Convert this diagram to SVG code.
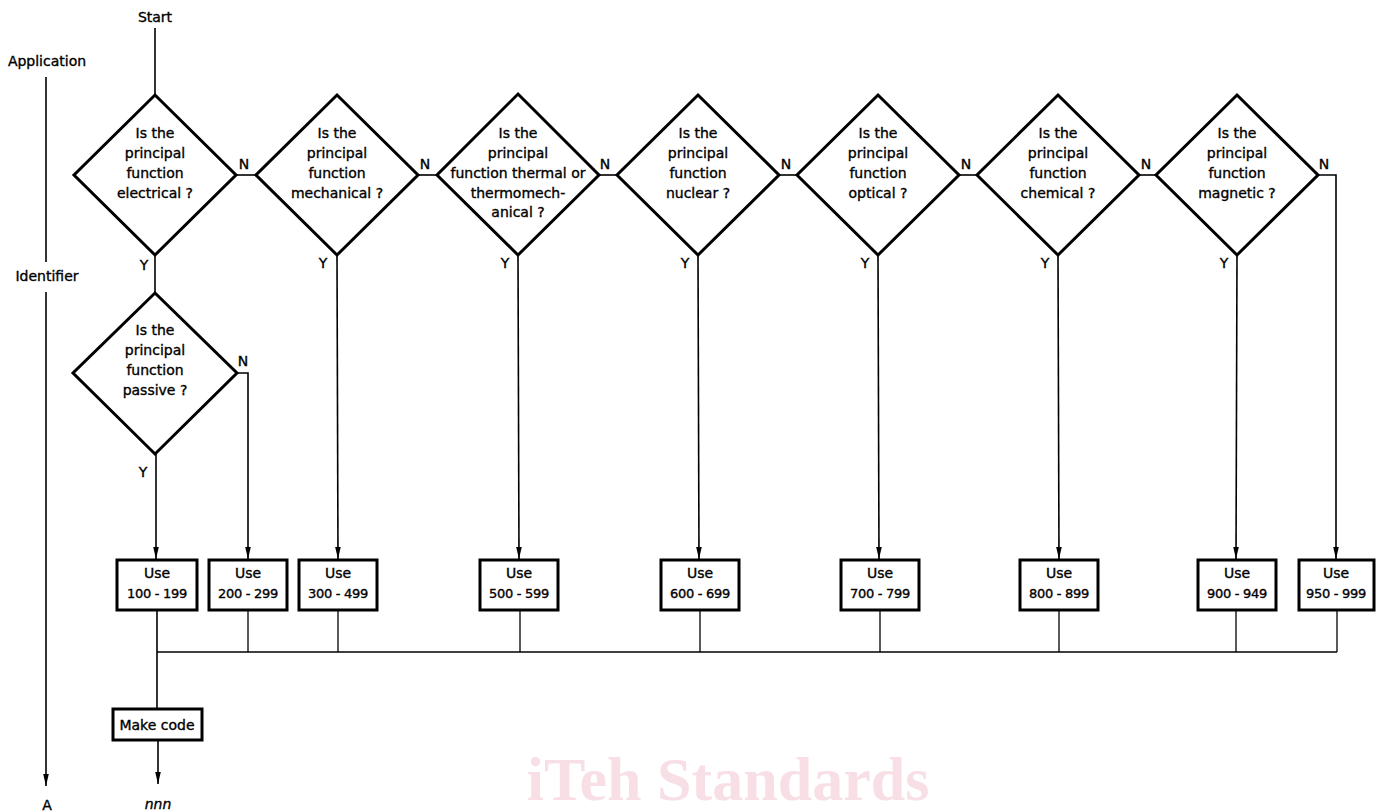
<svg xmlns="http://www.w3.org/2000/svg" width="1380" height="811" viewBox="0 0 1380 811">
<style>
  .t{font-family:"DejaVu Sans",sans-serif;font-size:14px;fill:#000;stroke:#000;stroke-width:0.35;text-anchor:middle}
  .b{font-family:"DejaVu Sans",sans-serif;font-size:13px;fill:#000;stroke:#000;stroke-width:0.35;text-anchor:middle;letter-spacing:-0.3px}
  .d{fill:#fff;stroke:#000;stroke-width:3;stroke-linejoin:miter}
  .r{fill:#fff;stroke:#000;stroke-width:3}
  .c{fill:none;stroke:#000;stroke-width:1.6}
  .c2{fill:none;stroke:#000;stroke-width:1.3}
  .wm{font-family:"Liberation Serif",serif;font-weight:bold;font-size:62px;fill:#f8dfe6;text-anchor:middle}
</style>
<defs>
  <marker id="arr" markerWidth="12" markerHeight="8" refX="12" refY="4" orient="auto" markerUnits="userSpaceOnUse">
    <path d="M0,1.2 L12,4 L0,6.8 z" fill="#000"/>
  </marker>
</defs>

<text class="wm" x="728" y="800">iTeh Standards</text>

<g id="axis">
  <text class="t" x="47" y="66">Application</text>
  <line class="c" x1="46" y1="77" x2="46" y2="262"/>
  <text class="t" x="47" y="281">Identifier</text>
  <line class="c" x1="46" y1="292" x2="46" y2="786" marker-end="url(#arr)"/>
  <text class="t" x="47" y="810">A</text>
</g>

<g id="connectors">
  <line class="c" x1="155" y1="28" x2="155" y2="95"/>
  <!-- N links -->
  <line class="c" x1="236" y1="175" x2="256" y2="175"/>
  <line class="c" x1="418" y1="175" x2="437" y2="175"/>
  <line class="c" x1="599" y1="175" x2="617" y2="175"/>
  <line class="c" x1="779" y1="175" x2="797" y2="175"/>
  <line class="c" x1="959" y1="175" x2="977" y2="175"/>
  <line class="c" x1="1139" y1="175" x2="1156" y2="175"/>
  <polyline class="c" points="1318,175 1336,175 1336,559" marker-end="url(#arr)"/>
  <polyline class="c" points="237,373 248,373 248,559" marker-end="url(#arr)"/>
  <!-- Y links -->
  <line class="c" x1="155" y1="255" x2="155" y2="293"/>
  <line class="c" x1="156" y1="454" x2="156" y2="559" marker-end="url(#arr)"/>
  <line class="c" x1="337" y1="255" x2="338" y2="559" marker-end="url(#arr)"/>
  <line class="c" x1="518" y1="255" x2="519" y2="559" marker-end="url(#arr)"/>
  <line class="c" x1="698" y1="255" x2="699" y2="559" marker-end="url(#arr)"/>
  <line class="c" x1="878" y1="255" x2="879" y2="559" marker-end="url(#arr)"/>
  <line class="c" x1="1058" y1="255" x2="1059" y2="559" marker-end="url(#arr)"/>
  <line class="c" x1="1237" y1="255" x2="1236" y2="559" marker-end="url(#arr)"/>
  <!-- drops to bus -->
  <line class="c2" x1="248" y1="610" x2="248" y2="652"/>
  <line class="c2" x1="338" y1="610" x2="338" y2="652"/>
  <line class="c2" x1="520" y1="610" x2="520" y2="652"/>
  <line class="c2" x1="700" y1="610" x2="700" y2="652"/>
  <line class="c2" x1="880" y1="610" x2="880" y2="652"/>
  <line class="c2" x1="1059" y1="610" x2="1059" y2="652"/>
  <line class="c2" x1="1236" y1="610" x2="1236" y2="652"/>
  <line class="c2" x1="1337" y1="610" x2="1337" y2="652"/>
  <line class="c" x1="157" y1="652" x2="1337" y2="652"/>
  <line class="c" x1="157" y1="610" x2="157" y2="709"/>
  <line class="c" x1="158" y1="740" x2="158" y2="784" marker-end="url(#arr)"/>
  <!-- labels -->
  <text class="t" x="244" y="169">N</text>
  <text class="t" x="425" y="169">N</text>
  <text class="t" x="605" y="169">N</text>
  <text class="t" x="786" y="169">N</text>
  <text class="t" x="966" y="169">N</text>
  <text class="t" x="1146" y="169">N</text>
  <text class="t" x="1324" y="169">N</text>
  <text class="t" x="243" y="366">N</text>
  <text class="t" x="144" y="270">Y</text>
  <text class="t" x="323" y="268">Y</text>
  <text class="t" x="505" y="268">Y</text>
  <text class="t" x="685" y="268">Y</text>
  <text class="t" x="865" y="268">Y</text>
  <text class="t" x="1045" y="268">Y</text>
  <text class="t" x="1224" y="268">Y</text>
  <text class="t" x="143" y="477">Y</text>
</g>

<g id="start"><text class="t" x="155" y="22">Start</text></g>

<g id="q-electrical">
  <polygon class="d" points="155,95 236,175 155,255 74,175"/>
  <text class="t" x="155" y="138">Is the</text>
  <text class="t" x="155" y="158">principal</text>
  <text class="t" x="155" y="178">function</text>
  <text class="t" x="155" y="198">electrical ?</text>
</g>
<g id="q-mechanical">
  <polygon class="d" points="337,95 418,175 337,255 256,175"/>
  <text class="t" x="337" y="138">Is the</text>
  <text class="t" x="337" y="158">principal</text>
  <text class="t" x="337" y="178">function</text>
  <text class="t" x="337" y="198">mechanical ?</text>
</g>
<g id="q-thermal">
  <polygon class="d" points="518,94 599,175 518,255 437,175"/>
  <text class="t" x="518" y="138">Is the</text>
  <text class="t" x="518" y="158">principal</text>
  <text class="t" x="518" y="178">function thermal or</text>
  <text class="t" x="518" y="198">thermomech-</text>
  <text class="t" x="518" y="217">anical ?</text>
</g>
<g id="q-nuclear">
  <polygon class="d" points="698,95 779,175 698,255 617,175"/>
  <text class="t" x="698" y="138">Is the</text>
  <text class="t" x="698" y="158">principal</text>
  <text class="t" x="698" y="178">function</text>
  <text class="t" x="698" y="198">nuclear ?</text>
</g>
<g id="q-optical">
  <polygon class="d" points="878,95 959,175 878,255 797,175"/>
  <text class="t" x="878" y="138">Is the</text>
  <text class="t" x="878" y="158">principal</text>
  <text class="t" x="878" y="178">function</text>
  <text class="t" x="878" y="198">optical ?</text>
</g>
<g id="q-chemical">
  <polygon class="d" points="1058,95 1139,175 1058,255 977,175"/>
  <text class="t" x="1058" y="138">Is the</text>
  <text class="t" x="1058" y="158">principal</text>
  <text class="t" x="1058" y="178">function</text>
  <text class="t" x="1058" y="198">chemical ?</text>
</g>
<g id="q-magnetic">
  <polygon class="d" points="1237,95 1318,175 1237,255 1156,175"/>
  <text class="t" x="1237" y="138">Is the</text>
  <text class="t" x="1237" y="158">principal</text>
  <text class="t" x="1237" y="178">function</text>
  <text class="t" x="1237" y="198">magnetic ?</text>
</g>
<g id="q-passive">
  <polygon class="d" points="155,293 237,373 155,454 73,373"/>
  <text class="t" x="155" y="335">Is the</text>
  <text class="t" x="155" y="355">principal</text>
  <text class="t" x="155" y="375">function</text>
  <text class="t" x="155" y="395">passive ?</text>
</g>

<g id="use-100"><rect class="r" x="117" y="560" width="80" height="50"/><text class="t" x="157" y="578">Use</text><text class="b" x="157" y="598">100 - 199</text></g>
<g id="use-200"><rect class="r" x="209" y="560" width="78" height="50"/><text class="t" x="248" y="578">Use</text><text class="b" x="248" y="598">200 - 299</text></g>
<g id="use-300"><rect class="r" x="299" y="560" width="78" height="50"/><text class="t" x="338" y="578">Use</text><text class="b" x="338" y="598">300 - 499</text></g>
<g id="use-500"><rect class="r" x="480" y="560" width="78" height="50"/><text class="t" x="519" y="578">Use</text><text class="b" x="519" y="598">500 - 599</text></g>
<g id="use-600"><rect class="r" x="661" y="560" width="78" height="50"/><text class="t" x="700" y="578">Use</text><text class="b" x="700" y="598">600 - 699</text></g>
<g id="use-700"><rect class="r" x="841" y="560" width="78" height="50"/><text class="t" x="880" y="578">Use</text><text class="b" x="880" y="598">700 - 799</text></g>
<g id="use-800"><rect class="r" x="1020" y="560" width="78" height="50"/><text class="t" x="1059" y="578">Use</text><text class="b" x="1059" y="598">800 - 899</text></g>
<g id="use-900"><rect class="r" x="1198" y="560" width="78" height="50"/><text class="t" x="1237" y="578">Use</text><text class="b" x="1237" y="598">900 - 949</text></g>
<g id="use-950"><rect class="r" x="1299" y="560" width="75" height="50"/><text class="t" x="1336" y="578">Use</text><text class="b" x="1336" y="598">950 - 999</text></g>

<g id="make-code"><rect class="r" x="113" y="709" width="89" height="31"/><text class="t" x="157" y="730">Make code</text></g>
<g id="out"><text class="t" x="158" y="809" font-style="italic">nnn</text></g>
</svg>
